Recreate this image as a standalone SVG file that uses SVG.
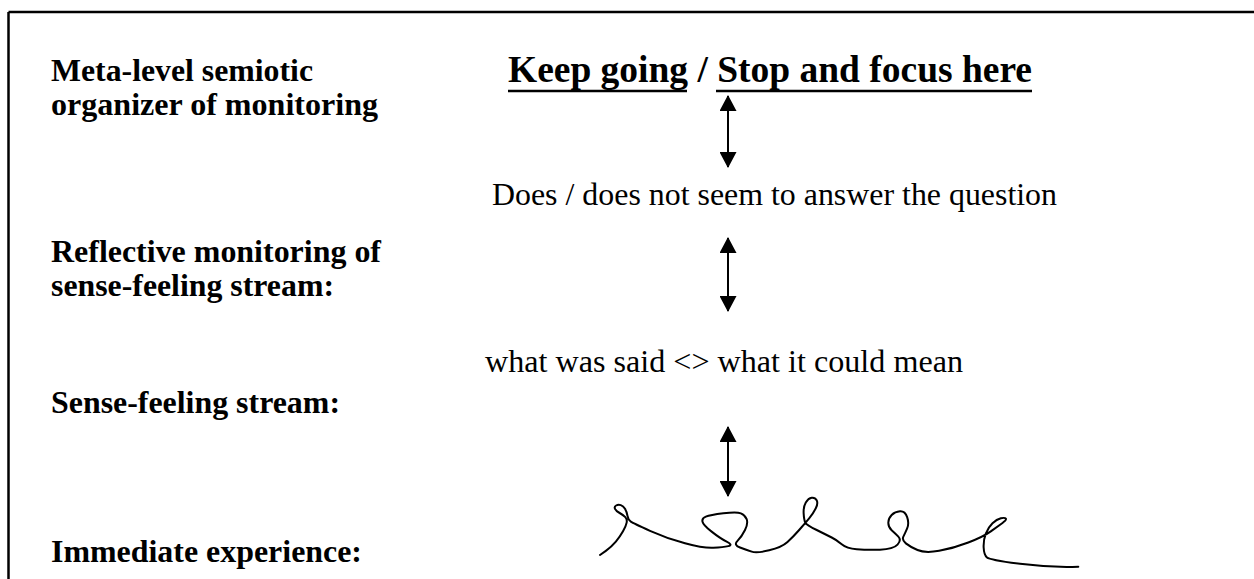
<svg xmlns="http://www.w3.org/2000/svg" width="1254" height="579" viewBox="0 0 1254 579">
  <style>
    .lbl { font-family: "Liberation Serif", "Times New Roman", serif; font-weight: bold; font-size: 31px; fill: #000; }
    .mid { font-family: "Liberation Serif", "Times New Roman", serif; font-size: 31px; fill: #000; }
    .top { font-family: "Liberation Serif", "Times New Roman", serif; font-weight: bold; font-size: 38px; fill: #000; }
    .conn { stroke: #000; stroke-width: 2; fill: none; marker-start: url(#ah); marker-end: url(#ah); }
    .ul { stroke: #000; stroke-width: 2.5; }
  </style>
  <defs>
    <marker id="ah" viewBox="0 0 16 17" refX="15" refY="8.5" markerWidth="16" markerHeight="17" markerUnits="userSpaceOnUse" orient="auto-start-reverse">
      <path d="M0,0 L16,8.5 L0,17 Z" fill="#000"/>
    </marker>
  </defs>
  <rect width="1254" height="579" fill="#fff"/>
  <g id="frame" stroke="#000" stroke-width="2.5" fill="none">
    <line x1="8.5" y1="12" x2="1254" y2="12"/>
    <line x1="8.5" y1="12" x2="8.5" y2="579"/>
  </g>
  <g id="label-meta">
    <text class="lbl" x="51" y="81" textLength="262" lengthAdjust="spacingAndGlyphs">Meta-level semiotic</text>
    <text class="lbl" x="51" y="115" textLength="327" lengthAdjust="spacingAndGlyphs">organizer of monitoring</text>
  </g>
  <g id="label-reflective">
    <text class="lbl" x="51" y="262" textLength="330" lengthAdjust="spacingAndGlyphs">Reflective monitoring of</text>
    <text class="lbl" x="51" y="296" textLength="283" lengthAdjust="spacingAndGlyphs">sense-feeling stream:</text>
  </g>
  <g id="label-sense">
    <text class="lbl" x="51" y="413" textLength="289" lengthAdjust="spacingAndGlyphs">Sense-feeling stream:</text>
  </g>
  <g id="label-immediate">
    <text class="lbl" x="51" y="562" textLength="311" lengthAdjust="spacingAndGlyphs">Immediate experience:</text>
  </g>
  <g id="node-keep">
    <text class="top" x="508" y="82" textLength="524" lengthAdjust="spacingAndGlyphs">Keep going / Stop and focus here</text>
    <line class="ul" x1="508" y1="91" x2="687" y2="91"/>
    <line class="ul" x1="716" y1="91" x2="1032" y2="91"/>
  </g>
  <g id="node-does">
    <text class="mid" x="492" y="205" textLength="565" lengthAdjust="spacingAndGlyphs">Does / does not seem to answer the question</text>
  </g>
  <g id="node-what">
    <text class="mid" x="485" y="372" textLength="478" lengthAdjust="spacingAndGlyphs">what was said &lt;&gt; what it could mean</text>
  </g>
  <g id="node-squiggle">
    <path fill="none" stroke="#000" stroke-width="2" stroke-linejoin="round" stroke-linecap="round"
      d="M600,555 L605.85,550.85 Q611.7,546.7 615.85,541.7 Q620,536.7 623,531.35 Q626,526 626.65,522.65 Q627.3,519.3 625.3,517.15 Q623.3,515 619.65,513 Q616,511 615,508.85 Q614,506.7 616.15,505.5 Q618.3,504.3 620.8,505.15 Q623.3,506 625,508.85 Q626.7,511.7 627.5,515.85 Q628.3,520 630.8,521.65 Q633.3,523.3 650,530.8 Q666.7,538.3 685,543.3 Q703.3,548.3 713.3,547.8 Q723.3,547.3 728.3,546.15 Q733.3,545 726.65,541.65 Q720,538.3 711.65,531.65 Q703.3,525 702.5,521.65 Q701.7,518.3 705.85,516.65 Q710,515 723.35,513.35 Q736.7,511.7 740.85,513.35 Q745,515 746.65,519.15 Q748.3,523.3 745,530 Q741.7,536.7 737.5,540.85 Q733.3,545 740,547.5 Q746.7,550 751.7,551.65 Q756.7,553.3 769.2,550.3 Q781.7,547.3 787.5,542 Q793.3,536.7 799.15,530 Q805,523.3 809.15,518.3 Q813.3,513.3 815.8,508.3 Q818.3,503.3 816.65,500.3 Q815,497.3 811.65,497.8 Q808.3,498.3 805.8,502.5 Q803.3,506.7 803.65,513.35 Q804,520 805.35,522.65 Q806.7,525 816.7,530 Q826.7,535 831.7,537.5 Q836.7,540 841.7,544.15 Q846.7,548.3 856.7,549.15 Q866.7,550 880,549.65 Q893.3,549.3 897.5,544.65 Q901.7,540 898.35,536.65 Q895,533.3 891.65,530.3 Q888.3,527.3 888.3,522.8 Q888.3,518.3 891.65,515 Q895,511.7 900,511.35 Q905,511 907.15,517.15 Q909.3,523.3 907.15,528.3 Q905,533.3 903.35,536.65 Q901.7,540 905.85,543.35 Q910,546.7 917.5,550 Q925,553.3 939.15,550.8 Q953.3,548.3 968.3,542.5 Q983.3,536.7 990.8,531.35 Q998.3,526 1002.5,523 Q1006.7,520 1005.85,518.65 Q1005,517.3 1000.85,518.3 Q996.7,519.3 992.5,523.3 Q988.3,527.3 985.8,533.65 Q983.3,540 983.65,547.5 Q984,555 987,557.5 Q990,560 1020,563.85 Q1050,567.7 1078.3,566.7"/>
  </g>
  <g id="connectors">
    <line class="conn" x1="728" y1="96" x2="728" y2="167"/>
    <line class="conn" x1="728" y1="238" x2="728" y2="311"/>
    <line class="conn" x1="728" y1="427" x2="728" y2="496"/>
  </g>
</svg>
